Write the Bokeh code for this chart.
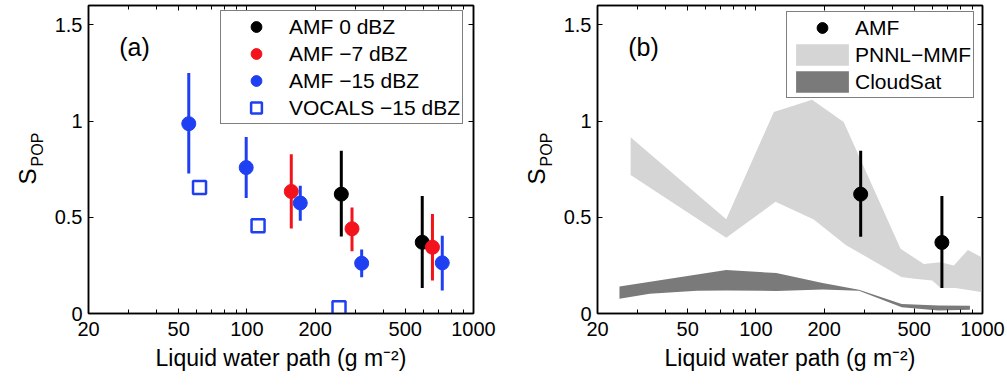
from bokeh.plotting import figure
from bokeh.models import (Range1d, FixedTicker, LogAxis, LinearAxis, Legend,
                          LegendItem, Label, ColumnDataSource, CustomLabelingPolicy)
from bokeh.layouts import row
from bokeh.embed import file_html
from bokeh.resources import INLINE

FONT = "Liberation Sans"
BLACK = "#000000"
RED = "#f2131c"
BLUE = "#1e3ff2"
LIGHT = "#d5d5d5"
DARK = "#7a7a7a"

# ---- axes ----
x_ticks = [20, 50, 100, 200, 500, 1000]
x_tick_labels = ["20", "50", "100", "200", "500", "1000"]
x_minor = [30, 40, 60, 70, 80, 90, 300, 400, 600, 700, 800, 900]
y_ticks = [0, 0.5, 1, 1.5]
y_tick_labels = ["0", "0.5", "1", "1.5"]
x_title = "Liquid water path (g m\u207b\u00b2)"
y_title_main = "S"
y_title_sub = "POP"

# ---- panel (a) ----
amf0_lwp = [261, 594]
amf0_s = [0.62, 0.37]
amf0_lo = [0.40, 0.133]
amf0_hi = [0.845, 0.61]

amf7_lwp = [157, 291, 659]
amf7_s = [0.634, 0.44, 0.344]
amf7_lo = [0.442, 0.323, 0.171]
amf7_hi = [0.827, 0.551, 0.517]

amf15_lwp = [55.4, 99.3, 172, 321, 728]
amf15_s = [0.986, 0.758, 0.574, 0.261, 0.263]
amf15_lo = [0.727, 0.60, 0.482, 0.188, 0.119]
amf15_hi = [1.25, 0.917, 0.663, 0.332, 0.404]

vocals_lwp = [61.8, 112, 255]
vocals_s = [0.655, 0.456, 0.03]

# ---- panel (b) ----
amf_lwp = [290, 662]
amf_s = [0.62, 0.369]
amf_lo = [0.399, 0.133]
amf_hi = [0.845, 0.611]

pnnl_up_lwp = [28, 74, 120, 177, 244, 435, 551, 653, 747, 862, 1000]
pnnl_up_s = [0.915, 0.49, 1.047, 1.11, 0.995, 0.336, 0.257, 0.266, 0.249, 0.33, 0.29]
pnnl_lo_lwp = [28, 74, 122, 180, 250, 438, 500, 600, 653, 760, 1000]
pnnl_lo_s = [0.72, 0.394, 0.58, 0.488, 0.355, 0.19, 0.18, 0.171, 0.132, 0.132, 0.11]

cs_up_lwp = [25, 74, 123, 197, 285, 440, 640, 880]
cs_up_s = [0.14, 0.226, 0.21, 0.158, 0.123, 0.05, 0.042, 0.04]
cs_lo_lwp = [25, 34, 55, 74, 123, 197, 285, 440, 640, 880]
cs_lo_s = [0.076, 0.102, 0.118, 0.12, 0.117, 0.125, 0.118, 0.033, 0.015, 0.02]

HIDE_LABELS = "for (const i of indices) { indices.unset(i) }\nreturn indices"


def title_fig():
    """Narrow strip that carries the rotated y-axis title S_POP."""
    t = figure(frame_width=50, frame_height=308, min_border_left=0, min_border_right=0,
               min_border_top=5, min_border_bottom=72, x_range=Range1d(0, 1),
               y_range=Range1d(0, 1), output_backend="svg", toolbar_location=None,
               x_axis_location=None, y_axis_location=None, outline_line_color=None,
               background_fill_color="white", border_fill_color="white")
    t.grid.visible = False
    t.add_layout(Label(x=27, y=137, x_units="screen", y_units="screen", text=y_title_main,
                       angle=1.5708, text_align="center", text_baseline="alphabetic",
                       text_font=FONT, text_font_size="24px", text_color="black"))
    t.add_layout(Label(x=37, y=164, x_units="screen", y_units="screen", text=y_title_sub,
                       angle=1.5708, text_align="center", text_baseline="alphabetic",
                       text_font=FONT, text_font_size="16px", text_color="black"))
    return t


def make_fig(border_right):
    p = figure(x_axis_type="log", x_range=Range1d(20, 1000), y_range=Range1d(0, 1.6),
               frame_width=385, frame_height=308,
               min_border_left=38, min_border_right=border_right,
               min_border_top=5, min_border_bottom=72,
               output_backend="svg", toolbar_location=None,
               background_fill_color="white", border_fill_color="white",
               outline_line_color="black", outline_line_width=1.5)
    p.grid.visible = False
    xt = FixedTicker(ticks=x_ticks, minor_ticks=x_minor)
    yt = FixedTicker(ticks=y_ticks, minor_ticks=[])
    xo = {t: s for t, s in zip(x_ticks, x_tick_labels)}
    yo = {t: s for t, s in zip(y_ticks, y_tick_labels)}

    common = dict(axis_line_color="black", axis_line_width=1.5,
                  major_tick_in=5, major_tick_out=0, minor_tick_in=4, minor_tick_out=0,
                  major_tick_line_color="black", minor_tick_line_color="black",
                  major_tick_line_width=1, minor_tick_line_width=1)

    xa = p.xaxis[0]
    xa.ticker = xt
    xa.major_label_overrides = xo
    xa.update(**common)
    xa.major_label_text_font = FONT
    xa.major_label_text_font_size = "20px"
    xa.major_label_text_color = "black"
    xa.major_label_standoff = 8
    xa.axis_label = x_title
    xa.axis_label_text_font = FONT
    xa.axis_label_text_font_size = "23px"
    xa.axis_label_text_font_style = "normal"
    xa.axis_label_text_color = "black"
    xa.axis_label_standoff = 6

    ya = p.yaxis[0]
    ya.ticker = yt
    ya.major_label_overrides = yo
    ya.update(**common)
    ya.major_label_text_font = FONT
    ya.major_label_text_font_size = "20px"
    ya.major_label_text_color = "black"
    ya.major_label_standoff = 6

    top = LogAxis(ticker=xt, major_label_text_font_size="1px", major_label_standoff=0,
                  major_label_policy=CustomLabelingPolicy(code=HIDE_LABELS), **common)
    p.add_layout(top, "above")
    right = LinearAxis(ticker=yt, major_label_text_font_size="1px", major_label_standoff=0,
                       major_label_policy=CustomLabelingPolicy(code=HIDE_LABELS), **common)
    p.add_layout(right, "right")
    return p


def legend_for(items, loc):
    return Legend(items=items, location=loc, glyph_width=66, glyph_height=27,
                  label_standoff=0, padding=2, spacing=0, margin=0,
                  label_height=27, label_text_font=FONT, label_text_font_size="21px",
                  label_text_color="black", label_text_baseline="middle",
                  border_line_color="black", border_line_width=1.2,
                  background_fill_color="white", background_fill_alpha=1.0)


def series(p, x, y, lo, hi, color):
    src = ColumnDataSource(dict(x=x, y=y, lo=lo, hi=hi))
    p.segment(x0="x", y0="lo", x1="x", y1="hi", source=src, line_color=color, line_width=3)
    return p.scatter("x", "y", source=src, size=14, marker="circle",
                     fill_color=color, line_color=color)


# ---------------- panel (a) ----------------
pa = make_fig(36)
r0 = series(pa, amf0_lwp, amf0_s, amf0_lo, amf0_hi, BLACK)
r7 = series(pa, amf7_lwp, amf7_s, amf7_lo, amf7_hi, RED)
r15 = series(pa, amf15_lwp, amf15_s, amf15_lo, amf15_hi, BLUE)
rv = pa.scatter(vocals_lwp, vocals_s, marker="square", size=13, fill_color=None,
                line_color=BLUE, line_width=2.5)
pa.add_layout(legend_for([
    LegendItem(label="AMF 0 dBZ", renderers=[r0]),
    LegendItem(label="AMF \u22127 dBZ", renderers=[r7]),
    LegendItem(label="AMF \u221215 dBZ", renderers=[r15]),
    LegendItem(label="VOCALS \u221215 dBZ", renderers=[rv]),
], (132, 189)))
pa.add_layout(Label(x=46, y=267, x_units="screen", y_units="screen", text="(a)",
                    text_align="center", text_baseline="middle",
                    text_font=FONT, text_font_size="25px", text_color="black"))

# ---------------- panel (b) ----------------
pb = make_fig(25)
rp = pb.patch(pnnl_up_lwp + pnnl_lo_lwp[::-1], pnnl_up_s + pnnl_lo_s[::-1],
              fill_color=LIGHT, line_color=None)
rc = pb.patch(cs_up_lwp + cs_lo_lwp[::-1], cs_up_s + cs_lo_s[::-1],
              fill_color=DARK, line_color=None)
ra = series(pb, amf_lwp, amf_s, amf_lo, amf_hi, BLACK)
pb.add_layout(legend_for([
    LegendItem(label="AMF", renderers=[ra]),
    LegendItem(label="PNNL\u2212MMF", renderers=[rp]),
    LegendItem(label="CloudSat", renderers=[rc]),
], (189, 215)))
pb.add_layout(Label(x=46, y=267, x_units="screen", y_units="screen", text="(b)",
                    text_align="center", text_baseline="middle",
                    text_font=FONT, text_font_size="25px", text_color="black"))

layout = row(title_fig(), pa, title_fig(), pb)
open("out.html", "w").write(file_html(layout, INLINE))
